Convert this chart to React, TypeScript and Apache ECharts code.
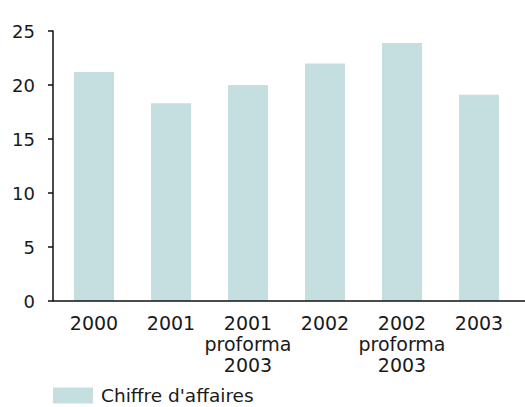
import React, { useEffect, useRef } from "react";
import * as echarts from "echarts";

const categories = ["2000", "2001", "2001\nproforma\n2003", "2002", "2002\nproforma\n2003", "2003"];
const revenue = [21.2, 18.3, 20.0, 22.0, 23.9, 19.1];
const yTicks = { min: 0, max: 25, interval: 5 };
const seriesName = "Chiffre d'affaires";

const FONT = "DejaVu Sans";
const TEXT = "#1a1a1a";
const BAR = "#c5dfe0";

export default function App() {
  const ref = useRef<HTMLDivElement>(null);
  useEffect(() => {
    if (!ref.current) return;
    const chart = echarts.init(ref.current, undefined, { renderer: "svg" });
    const gridLeft = 55.5;
    const gridRight = 7.5;
    const gridTop = 31;
    const gridBottom = 106;
    chart.setOption({
      animation: false,
      grid: { left: gridLeft, right: gridRight, top: gridTop, bottom: gridBottom },
      legend: {
        data: [seriesName],
        left: 53,
        top: 386,
        itemWidth: 40,
        itemHeight: 16,
        icon: "rect",
        padding: 0,
        textStyle: {
          fontFamily: FONT,
          fontSize: 18.5,
          lineHeight: 16,
          color: TEXT,
          padding: [0, 0, 0, 3],
        },
      },
      xAxis: {
        type: "category",
        data: categories,
        axisLine: { show: false },
        axisTick: { show: false },
        axisLabel: {
          fontFamily: FONT,
          fontSize: 19,
          lineHeight: 21,
          color: TEXT,
          margin: 11,
          interval: 0,
        },
      },
      yAxis: {
        type: "value",
        min: yTicks.min,
        max: yTicks.max,
        interval: yTicks.interval,
        offset: 2.5,
        splitLine: { show: false },
        axisLine: { show: true, lineStyle: { color: "#111", width: 1.5 } },
        axisTick: { show: true, length: 5, lineStyle: { color: "#111", width: 1.5 } },
        axisLabel: {
          fontFamily: FONT,
          fontSize: 18,
          color: TEXT,
          margin: 18,
          padding: [0, 0, 7, 0],
        },
      },
      series: [
        {
          name: seriesName,
          type: "bar",
          data: revenue,
          barWidth: 40,
          itemStyle: { color: BAR },
        },
      ],
      graphic: [
        {
          type: "line",
          shape: { x1: 53, y1: 407 - gridBottom, x2: 525, y2: 407 - gridBottom },
          style: { stroke: "#111", lineWidth: 1.5 },
          z: 100,
        },
      ],
    });
    return () => chart.dispose();
  }, []);
  return (
    <div
      ref={ref}
      style={{ position: "fixed", left: 0, top: 0, width: 525, height: 407, background: "#fff" }}
    />
  );
}
